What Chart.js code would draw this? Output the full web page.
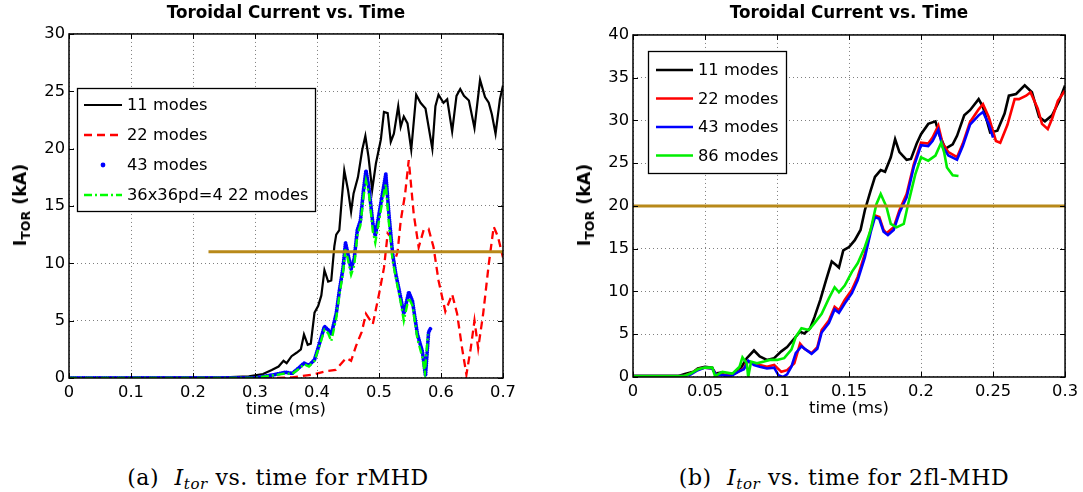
<!DOCTYPE html>
<html>
<head>
<meta charset="utf-8">
<script src="https://cdn.jsdelivr.net/npm/chart.js@4.4.1/dist/chart.umd.min.js"></script>
<style>
  html, body { margin: 0; padding: 0; background: #fff; }
  #page { position: relative; width: 1083px; height: 492px; overflow: hidden; }
  canvas { position: absolute; top: 0; }
  .ylab {
    position: absolute; white-space: nowrap; line-height: 20px;
    font: bold 17.5px "DejaVu Sans", sans-serif; color: #000;
    transform: translate(-50%, -50%) rotate(-90deg);
  }
  .ylab .sub { font-size: 12.5px; position: relative; top: 4px; }
  .cap {
    position: absolute; top: 465px; white-space: nowrap; transform: translateX(-50%);
    font: 22px "DejaVu Serif", serif; letter-spacing: 0.6px; color: #000;
  }
  .cap sub { font-size: 15px; vertical-align: -4px; line-height: 0; }
</style>
</head>
<body>
<div id="page">
  <canvas id="rmhd" width="540" height="430" style="left:0px"></canvas>
  <canvas id="twofl" width="543" height="430" style="left:540px"></canvas>
  <div class="ylab" style="left:20px; top:205px">I<span class="sub">TOR</span> (kA)</div>
  <div class="ylab" style="left:584px; top:205px">I<span class="sub">TOR</span> (kA)</div>
  <div class="cap" style="left:278px">(a)&nbsp; <i>I<sub>tor</sub></i> vs. time for rMHD</div>
  <div class="cap" style="left:844px">(b)&nbsp; <i>I<sub>tor</sub></i> vs. time for 2fl-MHD</div>
</div>
<script>
Chart.defaults.font.family = '"DejaVu Sans", sans-serif';
Chart.defaults.color = '#000';

// (a) rMHD, time in ms, current in kA
const rmhdXTicks = [0, 0.1, 0.2, 0.3, 0.4, 0.5, 0.6, 0.7];
const rmhdYTicks = [0, 5, 10, 15, 20, 25, 30];
const rmhdLabels = ['11 modes', '22 modes', '43 modes', '36x36pd=4 22 modes'];

const rmhd11 = [[0,0],[0.25,0.05],[0.29,0.15],[0.313,0.35],[0.327,0.7],[0.338,1.0],[0.346,1.5],[0.351,1.3],
  [0.359,1.9],[0.367,2.2],[0.374,2.5],[0.379,3.8],[0.385,2.9],[0.39,3.0],[0.396,5.7],[0.402,6.3],[0.407,7.2],
  [0.412,9.4],[0.418,8.4],[0.423,8.5],[0.428,11.5],[0.431,12.5],[0.436,12.9],[0.44,15.6],[0.444,18.1],[0.45,16.4],
  [0.455,14.5],[0.459,16.1],[0.466,17.5],[0.473,19.9],[0.478,21.1],[0.483,19.3],[0.489,16.4],[0.495,18.7],
  [0.503,20.8],[0.508,23.2],[0.514,23.1],[0.519,20.6],[0.524,21.3],[0.531,23.7],[0.535,21.9],[0.54,22.8],
  [0.546,22.2],[0.552,19.9],[0.56,24.7],[0.567,24.0],[0.575,23.5],[0.586,20.0],[0.591,23.7],[0.596,24.7],
  [0.604,24.0],[0.61,24.3],[0.618,21.5],[0.625,24.6],[0.631,25.2],[0.637,24.6],[0.645,24.2],[0.654,21.8],
  [0.663,26.0],[0.671,24.5],[0.677,24.0],[0.682,23.0],[0.688,21.3],[0.695,24.3],[0.7,25.5]];
const rmhd22 = [[0,0],[0.33,0],[0.36,0.05],[0.394,0.3],[0.415,0.6],[0.43,0.7],[0.447,1.75],[0.455,1.5],[0.463,2.8],
  [0.472,4.0],[0.479,5.6],[0.49,4.7],[0.5,7.3],[0.508,9.6],[0.514,12.6],[0.519,12.3],[0.524,10.0],[0.53,11.0],
  [0.535,13.7],[0.542,16.0],[0.548,19.0],[0.556,14.3],[0.564,11.4],[0.572,12.9],[0.58,13.0],[0.588,11.4],
  [0.596,8.5],[0.607,5.8],[0.618,7.3],[0.626,5.6],[0.634,2.6],[0.641,0.3],[0.648,2.6],[0.654,5.0],[0.66,2.6],
  [0.668,5.6],[0.677,9.9],[0.685,13.2],[0.692,12.3],[0.7,10.5]];
const rmhd43 = [[0,0],[0.3,0],[0.31,0.1],[0.332,0.3],[0.349,0.5],[0.36,0.4],[0.371,0.9],[0.379,1.3],[0.387,1.1],
  [0.396,1.6],[0.404,3.0],[0.412,4.5],[0.418,4.2],[0.423,3.8],[0.431,5.6],[0.436,7.6],[0.442,9.6],[0.446,11.8],
  [0.45,10.8],[0.455,9.5],[0.46,10.4],[0.465,12.9],[0.47,13.7],[0.475,16.4],[0.479,18.1],[0.484,16.5],[0.49,13.5],
  [0.494,12.4],[0.501,14.6],[0.506,16.2],[0.511,17.8],[0.516,14.3],[0.522,10.8],[0.527,9.1],[0.535,7.0],[0.54,5.6],
  [0.548,7.5],[0.554,6.7],[0.562,3.8],[0.57,2.3],[0.575,0.2],[0.58,4.0],[0.583,4.3]];
const rmhd36 = [[0,0],[0.3,0],[0.31,0.1],[0.332,0.25],[0.349,0.4],[0.36,0.35],[0.371,0.8],[0.379,1.2],[0.387,1.0],
  [0.396,1.5],[0.404,2.8],[0.412,4.2],[0.418,3.9],[0.423,3.2],[0.431,5.2],[0.436,7.2],[0.442,9.2],[0.446,11.3],
  [0.45,10.3],[0.455,9.0],[0.46,9.8],[0.465,12.4],[0.47,13.3],[0.475,15.8],[0.479,17.2],[0.484,16.0],[0.49,12.8],
  [0.494,11.8],[0.501,14.0],[0.506,15.6],[0.511,16.9],[0.516,13.5],[0.522,10.2],[0.527,8.8],[0.535,6.6],[0.54,5.0],
  [0.548,7.0],[0.554,6.3],[0.562,3.4],[0.57,1.8],[0.574,0.5],[0.579,3.8]];
const rmhdRef = [[0.225,11],[0.7,11]];

// (b) 2fl-MHD
const twoflXTicks = [0, 0.05, 0.1, 0.15, 0.2, 0.25, 0.3];
const twoflYTicks = [0, 5, 10, 15, 20, 25, 30, 35, 40];
const twoflLabels = ['11 modes', '22 modes', '43 modes', '86 modes'];

const twofl11 = [[0,0.1],[0.031,0.1],[0.036,0.35],[0.042,0.6],[0.045,1.0],[0.05,1.2],[0.055,1.1],[0.057,0.4],
  [0.061,0.5],[0.064,0.1],[0.069,0.4],[0.074,0.8],[0.079,2.2],[0.084,3.1],[0.088,2.4],[0.093,2.0],[0.098,2.2],
  [0.103,3.0],[0.107,3.5],[0.112,4.5],[0.116,5.3],[0.119,5.1],[0.123,5.7],[0.126,7.0],[0.13,9.0],[0.134,11.3],
  [0.138,13.5],[0.141,13.1],[0.143,12.8],[0.146,14.8],[0.15,15.2],[0.154,16.0],[0.158,17.2],[0.161,19.5],
  [0.165,21.8],[0.168,23.4],[0.172,24.2],[0.175,24.0],[0.179,25.7],[0.182,27.8],[0.185,26.3],[0.19,25.4],
  [0.193,25.5],[0.197,27.3],[0.2,28.4],[0.205,29.6],[0.21,29.9],[0.213,28.2],[0.217,26.7],[0.222,27.2],
  [0.225,28.2],[0.23,30.6],[0.234,31.2],[0.24,32.5],[0.243,31.6],[0.248,28.6],[0.253,28.8],[0.258,30.8],
  [0.261,32.9],[0.266,33.1],[0.272,34.1],[0.277,33.3],[0.282,30.4],[0.286,29.9],[0.291,30.6],[0.296,32.3],[0.3,34.1]];
const twofl22 = [[0,0.1],[0.035,0.1],[0.04,0.4],[0.045,0.9],[0.05,1.1],[0.055,1.0],[0.058,0.3],[0.063,0.3],
  [0.068,0.2],[0.073,0.6],[0.077,1.0],[0.079,1.8],[0.084,1.6],[0.088,1.4],[0.093,1.2],[0.098,1.4],[0.103,0.6],
  [0.107,0.8],[0.112,1.6],[0.116,3.9],[0.119,3.3],[0.124,2.8],[0.128,3.5],[0.131,5.5],[0.136,6.6],[0.14,8.2],
  [0.143,7.8],[0.147,9.0],[0.152,10.2],[0.156,11.7],[0.161,14.4],[0.165,17.2],[0.168,18.9],[0.171,18.7],
  [0.174,17.2],[0.176,16.8],[0.181,17.5],[0.185,19.5],[0.19,21.4],[0.195,24.9],[0.2,27.4],[0.205,27.3],
  [0.208,28.0],[0.212,29.4],[0.215,27.3],[0.219,26.3],[0.225,25.7],[0.229,27.3],[0.234,29.8],[0.24,31.3],
  [0.243,31.9],[0.247,30.4],[0.252,27.6],[0.255,27.4],[0.26,29.5],[0.265,32.5],[0.268,32.5],[0.273,32.9],
  [0.276,33.3],[0.281,31.4],[0.284,29.6],[0.288,29.0],[0.291,30.2],[0.295,32.3],[0.3,33.5]];
const twofl43 = [[0,0.1],[0.035,0.1],[0.04,0.3],[0.045,0.8],[0.05,1.1],[0.055,1.0],[0.058,0.2],[0.063,0.2],
  [0.068,0.1],[0.073,0.6],[0.077,0.9],[0.08,1.9],[0.084,1.4],[0.088,1.2],[0.093,1.0],[0.098,1.1],[0.101,0.2],
  [0.104,0.0],[0.107,0.3],[0.11,1.2],[0.113,2.8],[0.117,3.6],[0.12,3.2],[0.124,2.7],[0.128,3.3],[0.131,5.2],
  [0.136,6.3],[0.14,7.9],[0.143,7.5],[0.147,8.6],[0.152,9.8],[0.156,11.3],[0.161,14.0],[0.165,16.9],[0.168,18.7],
  [0.171,18.5],[0.174,17.0],[0.177,16.6],[0.181,17.2],[0.185,19.2],[0.19,21.0],[0.195,24.6],[0.2,27.1],
  [0.205,27.0],[0.208,27.6],[0.212,28.9],[0.215,26.9],[0.219,25.9],[0.225,25.4],[0.229,27.0],[0.234,29.5],
  [0.24,30.6],[0.243,31.0],[0.247,29.6],[0.25,28.0]];
const twofl86 = [[0,0.1],[0.035,0.1],[0.04,0.4],[0.045,0.9],[0.05,1.1],[0.055,1.1],[0.057,0.1],[0.062,0.6],
  [0.069,0.4],[0.074,1.2],[0.076,2.3],[0.079,1.6],[0.08,0.0],[0.082,1.8],[0.086,1.6],[0.091,1.8],[0.095,2.0],
  [0.1,2.0],[0.105,2.2],[0.11,3.2],[0.113,4.7],[0.117,5.7],[0.122,5.5],[0.126,6.3],[0.131,7.4],[0.136,9.2],
  [0.14,10.5],[0.143,9.9],[0.147,10.7],[0.152,12.3],[0.156,13.3],[0.161,15.2],[0.165,17.2],[0.169,20.2],
  [0.172,21.4],[0.176,19.9],[0.179,17.9],[0.183,17.5],[0.188,17.9],[0.191,20.2],[0.196,23.7],[0.2,25.7],
  [0.205,25.3],[0.21,25.9],[0.214,27.4],[0.216,26.3],[0.218,24.5],[0.222,23.6],[0.226,23.5]];
const twoflRef = [[0,20],[0.3,20]];

const toXY = pts => pts.map(([x, y]) => ({ x, y }));

function series(label, pts, color, width, dash, order, extra) {
  return Object.assign({
    label, data: toXY(pts), borderColor: color, backgroundColor: color,
    borderWidth: width, borderDash: dash, pointRadius: 0, tension: 0, fill: false, order
  }, extra || {});
}

// MATLAB style: full box, inward ticks, framed legend inside the axes
const matlabAxes = {
  id: 'matlabAxes',
  afterDraw(chart, args, opts) {
    const { ctx, chartArea: a, scales } = chart;
    const tick = 5;
    ctx.save();
    ctx.strokeStyle = '#000';
    ctx.lineWidth = 1;
    ctx.beginPath();
    scales.x.ticks.forEach(t => {
      const px = Math.round(scales.x.getPixelForValue(t.value)) + 0.5;
      ctx.moveTo(px, a.bottom); ctx.lineTo(px, a.bottom - tick);
      ctx.moveTo(px, a.top); ctx.lineTo(px, a.top + tick);
    });
    scales.y.ticks.forEach(t => {
      const py = Math.round(scales.y.getPixelForValue(t.value)) + 0.5;
      ctx.moveTo(a.left, py); ctx.lineTo(a.left + tick, py);
      ctx.moveTo(a.right, py); ctx.lineTo(a.right - tick, py);
    });
    ctx.stroke();
    ctx.lineWidth = 1.5;
    ctx.strokeRect(a.left, a.top, a.right - a.left, a.bottom - a.top);

    const L = opts.box;
    if (L) {
      ctx.fillStyle = '#fff';
      ctx.fillRect(L.x, L.y, L.w, L.h);
      ctx.lineWidth = 1.3;
      ctx.strokeRect(L.x + 0.5, L.y + 0.5, L.w, L.h);
      ctx.font = '16.3px "DejaVu Sans"';
      ctx.textBaseline = 'middle';
      ctx.textAlign = 'left';
      chart.data.datasets.filter(ds => !ds.noLegend).forEach((ds, i) => {
        const y = L.y + L.row0 + i * L.rowH;
        ctx.strokeStyle = ds.borderColor;
        ctx.fillStyle = ds.borderColor;
        if (ds.legendDot) {
          ctx.beginPath();
          ctx.arc(L.x + (L.s0 + L.s1) / 2, y, 2.4, 0, Math.PI * 2);
          ctx.fill();
        } else {
          ctx.lineWidth = ds.borderWidth;
          ctx.setLineDash(ds.borderDash || []);
          ctx.beginPath();
          ctx.moveTo(L.x + L.s0, y); ctx.lineTo(L.x + L.s1, y);
          ctx.stroke();
          ctx.setLineDash([]);
        }
        ctx.fillStyle = '#000';
        ctx.fillText(ds.label, L.x + L.tx, y + 1);
      });
    }
    ctx.restore();
  }
};

function makeChart(id, cfg) {
  const grid = { color: 'rgba(0,0,0,0.5)', lineWidth: 1, drawTicks: false };
  const border = { display: false, dash: [1, 3] };
  new Chart(document.getElementById(id), {
    type: 'line',
    data: { datasets: cfg.datasets },
    options: {
      animation: false,
      responsive: false,
      events: [],
      layout: { padding: { left: 0, right: cfg.padRight, top: 0, bottom: cfg.padBottom } },
      plugins: {
        legend: { display: false },
        tooltip: { enabled: false },
        title: {
          display: true, text: 'Toroidal Current vs. Time', fullSize: false, color: '#000',
          font: { size: 16.8, weight: 'bold' }, padding: { top: 4, bottom: cfg.titleGap }
        },
        matlabAxes: { box: cfg.legendBox }
      },
      scales: {
        x: {
          type: 'linear', min: cfg.xTicks[0], max: cfg.xTicks[cfg.xTicks.length - 1],
          afterBuildTicks: s => { s.ticks = cfg.xTicks.map(v => ({ value: v })); },
          afterFit: s => { s.height = 42; },
          grid, border,
          ticks: { padding: 5, font: { size: 16.3 }, color: '#000', maxRotation: 0, autoSkip: false,
                   callback: v => String(v) },
          title: { display: true, text: 'time (ms)', font: { size: 16.5 }, color: '#000', padding: 0 }
        },
        y: {
          type: 'linear', min: cfg.yTicks[0], max: cfg.yTicks[cfg.yTicks.length - 1],
          afterBuildTicks: s => { s.ticks = cfg.yTicks.map(v => ({ value: v })); },
          afterFit: s => { s.width = cfg.axisLeft; },
          grid, border,
          ticks: { padding: 4, font: { size: 16.3 }, color: '#000', callback: v => String(v) }
        }
      }
    },
    plugins: [matlabAxes]
  });
}

makeChart('rmhd', {
  xTicks: rmhdXTicks, yTicks: rmhdYTicks,
  axisLeft: 69, padRight: 37, padBottom: 10, titleGap: 9.8,
  legendBox: { x: 77, y: 88, w: 238, h: 123, row0: 17, rowH: 30, s0: 7, s1: 45, tx: 50 },
  datasets: [
    series(rmhdLabels[0], rmhd11, '#000000', 2.2, [], 5),
    series(rmhdLabels[1], rmhd22, '#ff0000', 2.3, [8, 5], 4),
    series(rmhdLabels[2], rmhd43, '#0000ff', 3.8, [0.1, 2.1], 3, { borderCapStyle: 'round', legendDot: true }),
    series(rmhdLabels[3], rmhd36, '#00ff00', 2.4, [8, 3, 2, 3], 2),
    series('ref', rmhdRef, '#b8891a', 3, [], 1, { noLegend: true })
  ]
});

makeChart('twofl', {
  xTicks: twoflXTicks, yTicks: twoflYTicks,
  axisLeft: 93, padRight: 15, padBottom: 11, titleGap: 10.8,
  legendBox: { x: 108, y: 51, w: 138, h: 122, row0: 19, rowH: 28.5, s0: 8, s1: 45, tx: 50 },
  datasets: [
    series(twoflLabels[0], twofl11, '#000000', 2.6, [], 5),
    series(twoflLabels[1], twofl22, '#ff0000', 2.6, [], 4),
    series(twoflLabels[2], twofl43, '#0000ff', 2.6, [], 3),
    series(twoflLabels[3], twofl86, '#00ee00', 2.6, [], 2),
    series('ref', twoflRef, '#b8891a', 3, [], 1, { noLegend: true })
  ]
});
</script>
</body>
</html>
